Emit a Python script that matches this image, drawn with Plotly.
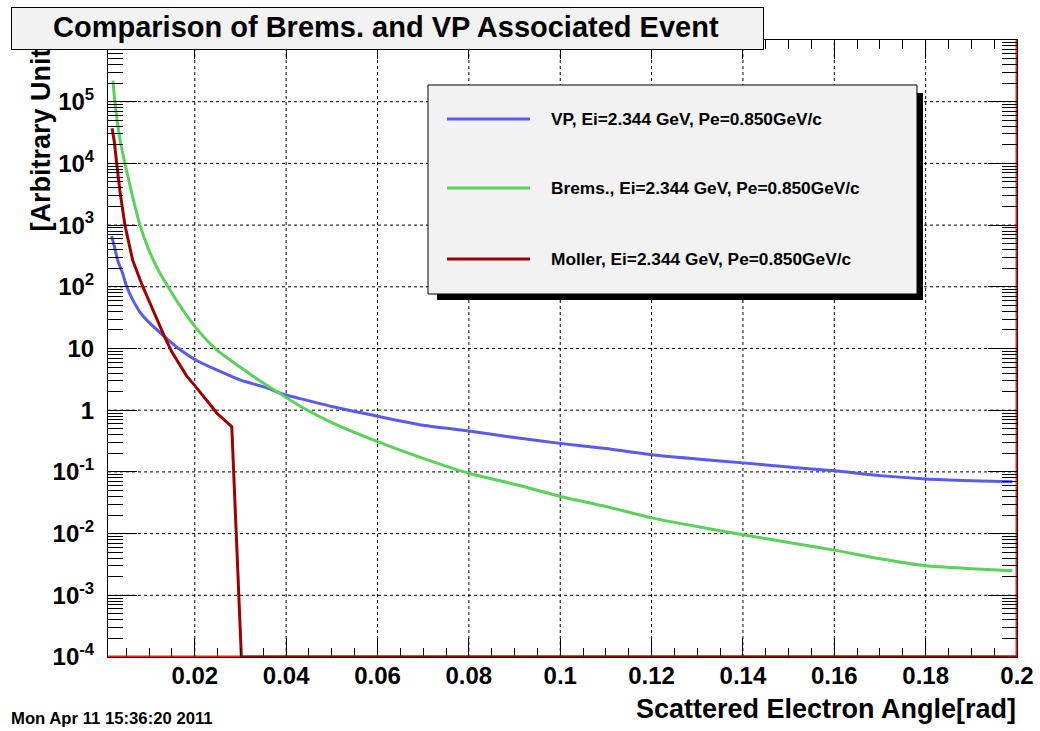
import math
import plotly.graph_objects as go

# ---------------- data ----------------
vp_x = [0.0018, 0.0025, 0.0031, 0.0042, 0.0051, 0.0064, 0.008, 0.0101, 0.013, 0.0161,
        0.0204, 0.0248, 0.0299, 0.0358, 0.039, 0.043, 0.05, 0.06, 0.07, 0.08, 0.09, 0.10,
        0.11, 0.12, 0.13, 0.14, 0.15, 0.16, 0.17, 0.18, 0.19, 0.199]
vp_y = [660, 420, 270, 165, 100, 62, 39, 26, 16.5, 10.5,
        6.4, 4.5, 3.1, 2.3, 1.85, 1.55, 1.15, 0.80, 0.57, 0.46, 0.36, 0.29,
        0.24, 0.19, 0.162, 0.14, 0.12, 0.104, 0.087, 0.077, 0.072, 0.069]

brems_x = [0.0021, 0.0025, 0.0036, 0.0047, 0.0062, 0.008, 0.0098, 0.0118, 0.0138, 0.0167,
           0.0204, 0.0248, 0.0299, 0.035, 0.0397, 0.043, 0.05, 0.06, 0.07, 0.08, 0.09,
           0.10, 0.11, 0.12, 0.13, 0.14, 0.15, 0.16, 0.17, 0.18, 0.19, 0.199]
brems_y = [2.2e5, 1.0e5, 2.5e4, 1.0e4, 3.3e3, 1.0e3, 420, 200, 110, 50,
           21, 9.5, 5.0, 2.75, 1.66, 1.17, 0.63, 0.31, 0.166, 0.095, 0.063,
           0.040, 0.0275, 0.018, 0.013, 0.0096, 0.0072, 0.0054, 0.0039, 0.0030, 0.0027, 0.0025]

moller_x = [0.0019, 0.0024, 0.0029, 0.0036, 0.0047, 0.0064, 0.0084, 0.0108, 0.0134, 0.0149,
            0.0167, 0.0182, 0.020, 0.0218, 0.0233, 0.0248, 0.0265, 0.0281, 0.0302, 0.2]
moller_y = [3.7e4, 2.2e4, 1.0e4, 3.6e3, 1.0e3, 270, 110, 42, 15.5, 9.0,
            5.5, 3.6, 2.5, 1.75, 1.25, 0.90, 0.70, 0.54, 1e-4, 1e-4]

# empty reference histogram outline (bottom and right edge, bright red)
edge_x = [0.001, 0.2, 0.2]
edge_y = [1e-4, 1e-4, 1e6]

series_names = ["VP, Ei=2.344 GeV, Pe=0.850GeV/c",
                "Brems., Ei=2.344 GeV, Pe=0.850GeV/c",
                "Moller, Ei=2.344 GeV, Pe=0.850GeV/c"]
series_colors = ["#5a5aeb", "#5ad25a", "#a00000"]

x_tick_vals = [0.02, 0.04, 0.06, 0.08, 0.10, 0.12, 0.14, 0.16, 0.18, 0.20]
x_tick_text = ["0.02", "0.04", "0.06", "0.08", "0.1", "0.12", "0.14", "0.16", "0.18", "0.2"]
y_tick_vals = [1e-4, 1e-3, 1e-2, 1e-1, 1, 10, 1e2, 1e3, 1e4, 1e5, 1e6]
y_tick_text = ["10<sup>-4</sup>", "10<sup>-3</sup>", "10<sup>-2</sup>", "10<sup>-1</sup>", "1", "10",
               "10<sup>2</sup>", "10<sup>3</sup>", "10<sup>4</sup>", "10<sup>5</sup>", "10<sup>6</sup>"]

title_text = "Comparison of Brems. and VP Associated Event"
x_title = "Scattered Electron Angle[rad]"
y_title = "[Arbitrary Units]"
date_text = "Mon Apr 11 15:36:20 2011"

# minor tick positions
x_minor_vals = [round(0.005 * i, 4) for i in range(1, 41)]
y_minor_vals = [k * 10.0 ** d for d in range(-4, 6) for k in range(2, 10)]

# ---------------- layout geometry ----------------
W, H = 1040, 731
L, R, T, B = 108, 1017, 40, 657
PW, PH = R - L, B - T
XR = [0.001, 0.2]
YR = [-4, 6]


def px(xp):
    return (xp - L) / PW


def py(yp):
    return (B - yp) / PH


FONT = "Liberation Sans"

fig = go.Figure()
fig.add_trace(go.Scatter(x=edge_x, y=edge_y, mode="lines",
                         line=dict(color="#ff1a1a", width=3), showlegend=False, hoverinfo="skip"))
for xs, ys, name, col in [(vp_x, vp_y, series_names[0], series_colors[0]),
                          (brems_x, brems_y, series_names[1], series_colors[1]),
                          (moller_x, moller_y, series_names[2], series_colors[2])]:
    shape = "linear" if name.startswith("Moller") else "spline"
    fig.add_trace(go.Scatter(x=xs, y=ys, mode="lines", name=name,
                             line=dict(color=col, width=3, shape=shape, smoothing=0.6),
                             showlegend=False))

tickfont = dict(family=FONT, size=24, color="black", weight="bold")
common = dict(showline=True, linecolor="black", linewidth=1, mirror="ticks",
              ticks="inside", tickcolor="black", tickwidth=1, showgrid=False,
              zeroline=False, automargin=False, tickfont=tickfont)

fig.update_xaxes(range=XR, tickmode="array", tickvals=x_tick_vals, ticktext=x_tick_text,
                 ticklen=19, ticklabelstandoff=-3,
                 minor=dict(tickmode="array", tickvals=x_minor_vals, ticks="inside", ticklen=9,
                            tickcolor="black", showgrid=False),
                 **common)
fig.update_yaxes(type="log", range=YR, tickmode="array", tickvals=y_tick_vals, ticktext=y_tick_text,
                 ticklen=29, ticklabelstandoff=8,
                 minor=dict(tickmode="array", tickvals=y_minor_vals, ticks="inside", ticklen=15,
                            tickcolor="black", showgrid=False),
                 **common)

shapes = []
# dotted grid at the major ticks
for v in x_tick_vals:
    if XR[0] < v < XR[1]:
        shapes.append(dict(type="line", xref="x", yref="paper", x0=v, x1=v, y0=0, y1=1,
                           line=dict(color="black", width=1, dash="dot"), layer="below"))
for v in y_tick_vals:
    f = (math.log10(v) - YR[0]) / (YR[1] - YR[0])
    if 0 < f < 1:
        shapes.append(dict(type="line", xref="paper", yref="paper", x0=0, x1=1, y0=f, y1=f,
                           line=dict(color="black", width=1, dash="dot"), layer="below"))
# legend shadow + box
shapes.append(dict(type="rect", xref="paper", yref="paper", x0=px(437), x1=px(923), y0=py(300), y1=py(93),
                   fillcolor="black", line=dict(width=0), layer="above"))
shapes.append(dict(type="rect", xref="paper", yref="paper", x0=px(428), x1=px(917), y0=py(294), y1=py(85),
                   fillcolor="#f2f2f2", line=dict(color="black", width=1), layer="above"))
legend_rows = [119, 188, 259]
for yrow, col in zip(legend_rows, series_colors):
    shapes.append(dict(type="line", xref="paper", yref="paper", x0=px(447), x1=px(530), y0=py(yrow), y1=py(yrow),
                       line=dict(color=col, width=3), layer="above"))

annotations = []
# y-axis title (partly hidden under the title box)
annotations.append(dict(text=y_title, xref="paper", yref="paper", x=px(40), y=py(234),
                        xanchor="center", yanchor="bottom", textangle=-90, showarrow=False,
                        font=dict(family=FONT, size=27, color="black", weight="bold")))
# x-axis title
annotations.append(dict(text=x_title, xref="paper", yref="paper", x=px(1018), y=py(709),
                        xanchor="right", yanchor="middle", showarrow=False,
                        font=dict(family=FONT, size=27, color="black", weight="bold")))
# legend texts
for yrow, name in zip(legend_rows, series_names):
    annotations.append(dict(text=name, xref="paper", yref="paper", x=px(549), y=py(yrow),
                            xanchor="left", yanchor="middle", showarrow=False,
                            font=dict(family=FONT, size=17.3, color="black", weight="bold")))
# title box shadow, box and text
annotations.append(dict(text="\u00a0", xref="paper", yref="paper", x=px(13), y=py(9),
                        xanchor="left", yanchor="top", showarrow=False, width=751, height=41,
                        bgcolor="black", borderpad=0, borderwidth=0))
annotations.append(dict(text="\u00a0", xref="paper", yref="paper", x=px(11), y=py(7),
                        xanchor="left", yanchor="top", showarrow=False, width=751, height=41,
                        bgcolor="#f2f2f2", bordercolor="black", borderwidth=1, borderpad=0))
annotations.append(dict(text=title_text, xref="paper", yref="paper", x=px(51), y=py(27),
                        xanchor="left", yanchor="middle", showarrow=False,
                        font=dict(family=FONT, size=29, color="black", weight="bold")))
# date stamp
annotations.append(dict(text=date_text, xref="paper", yref="paper", x=px(9), y=py(718),
                        xanchor="left", yanchor="middle", showarrow=False,
                        font=dict(family=FONT, size=16.7, color="black", weight="bold")))

fig.update_layout(template="none", width=W, height=H,
                  margin=dict(l=L, r=W - R, t=T, b=H - B, autoexpand=False),
                  paper_bgcolor="white", plot_bgcolor="white", showlegend=False,
                  shapes=shapes, annotations=annotations)

fig.write_html("out.html")
